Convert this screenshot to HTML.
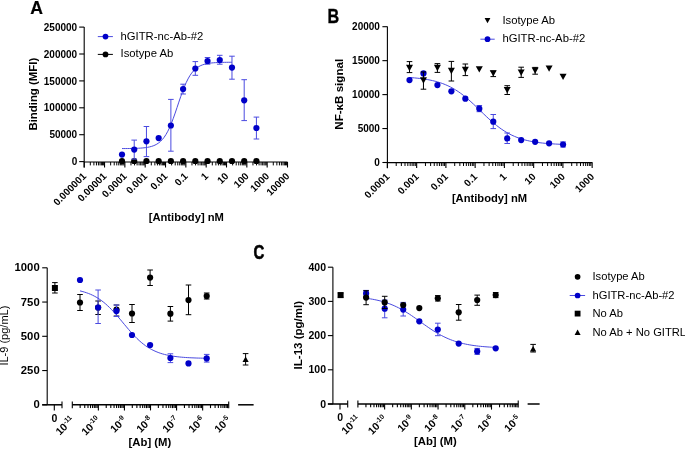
<!DOCTYPE html>
<html><head><meta charset="utf-8"><style>
html,body{margin:0;padding:0;background:#fff;overflow:hidden;width:685px;height:449px;}
svg{display:block;font-family:"Liberation Sans",sans-serif;will-change:transform;}
</style></head><body>
<svg width="685" height="449" viewBox="0 0 685 449">
<rect width="685" height="449" fill="#fff"/>
<text x="0" y="0" font-size="19.2" font-weight="bold" stroke="#000" stroke-width="0.2" transform="translate(30.3 14.0) scale(0.92 1)">A</text>
<line x1="84.2" y1="27.1" x2="84.2" y2="167.5" stroke="#000" stroke-width="1.1"/>
<line x1="79.2" y1="161.6" x2="84.2" y2="161.6" stroke="#000" stroke-width="1.1"/>
<text x="77.2" y="165.2" font-size="10" font-weight="bold" text-anchor="end" fill="#000" >0</text>
<line x1="79.2" y1="134.7" x2="84.2" y2="134.7" stroke="#000" stroke-width="1.1"/>
<text x="77.2" y="138.3" font-size="10" font-weight="bold" text-anchor="end" fill="#000" >50000</text>
<line x1="79.2" y1="107.8" x2="84.2" y2="107.8" stroke="#000" stroke-width="1.1"/>
<text x="77.2" y="111.4" font-size="10" font-weight="bold" text-anchor="end" fill="#000" >100000</text>
<line x1="79.2" y1="80.9" x2="84.2" y2="80.9" stroke="#000" stroke-width="1.1"/>
<text x="77.2" y="84.5" font-size="10" font-weight="bold" text-anchor="end" fill="#000" >150000</text>
<line x1="79.2" y1="54" x2="84.2" y2="54" stroke="#000" stroke-width="1.1"/>
<text x="77.2" y="57.6" font-size="10" font-weight="bold" text-anchor="end" fill="#000" >200000</text>
<line x1="79.2" y1="27.1" x2="84.2" y2="27.1" stroke="#000" stroke-width="1.1"/>
<text x="77.2" y="30.7" font-size="10" font-weight="bold" text-anchor="end" fill="#000" >250000</text>
<line x1="84.2" y1="162" x2="287.5" y2="162" stroke="#000" stroke-width="1.1"/>
<line x1="84.2" y1="162" x2="84.2" y2="167.5" stroke="#000" stroke-width="1.1"/>
<line x1="90.32" y1="162" x2="90.32" y2="165.4" stroke="#000" stroke-width="1.0"/>
<line x1="93.9" y1="162" x2="93.9" y2="165.4" stroke="#000" stroke-width="1.0"/>
<line x1="96.44" y1="162" x2="96.44" y2="165.4" stroke="#000" stroke-width="1.0"/>
<line x1="98.41" y1="162" x2="98.41" y2="165.4" stroke="#000" stroke-width="1.0"/>
<line x1="100.02" y1="162" x2="100.02" y2="165.4" stroke="#000" stroke-width="1.0"/>
<line x1="101.38" y1="162" x2="101.38" y2="165.4" stroke="#000" stroke-width="1.0"/>
<line x1="102.56" y1="162" x2="102.56" y2="165.4" stroke="#000" stroke-width="1.0"/>
<line x1="103.6" y1="162" x2="103.6" y2="165.4" stroke="#000" stroke-width="1.0"/>
<line x1="104.53" y1="162" x2="104.53" y2="167.5" stroke="#000" stroke-width="1.1"/>
<line x1="110.65" y1="162" x2="110.65" y2="165.4" stroke="#000" stroke-width="1.0"/>
<line x1="114.23" y1="162" x2="114.23" y2="165.4" stroke="#000" stroke-width="1.0"/>
<line x1="116.77" y1="162" x2="116.77" y2="165.4" stroke="#000" stroke-width="1.0"/>
<line x1="118.74" y1="162" x2="118.74" y2="165.4" stroke="#000" stroke-width="1.0"/>
<line x1="120.35" y1="162" x2="120.35" y2="165.4" stroke="#000" stroke-width="1.0"/>
<line x1="121.71" y1="162" x2="121.71" y2="165.4" stroke="#000" stroke-width="1.0"/>
<line x1="122.89" y1="162" x2="122.89" y2="165.4" stroke="#000" stroke-width="1.0"/>
<line x1="123.93" y1="162" x2="123.93" y2="165.4" stroke="#000" stroke-width="1.0"/>
<line x1="124.86" y1="162" x2="124.86" y2="167.5" stroke="#000" stroke-width="1.1"/>
<line x1="130.98" y1="162" x2="130.98" y2="165.4" stroke="#000" stroke-width="1.0"/>
<line x1="134.56" y1="162" x2="134.56" y2="165.4" stroke="#000" stroke-width="1.0"/>
<line x1="137.1" y1="162" x2="137.1" y2="165.4" stroke="#000" stroke-width="1.0"/>
<line x1="139.07" y1="162" x2="139.07" y2="165.4" stroke="#000" stroke-width="1.0"/>
<line x1="140.68" y1="162" x2="140.68" y2="165.4" stroke="#000" stroke-width="1.0"/>
<line x1="142.04" y1="162" x2="142.04" y2="165.4" stroke="#000" stroke-width="1.0"/>
<line x1="143.22" y1="162" x2="143.22" y2="165.4" stroke="#000" stroke-width="1.0"/>
<line x1="144.26" y1="162" x2="144.26" y2="165.4" stroke="#000" stroke-width="1.0"/>
<line x1="145.19" y1="162" x2="145.19" y2="167.5" stroke="#000" stroke-width="1.1"/>
<line x1="151.31" y1="162" x2="151.31" y2="165.4" stroke="#000" stroke-width="1.0"/>
<line x1="154.89" y1="162" x2="154.89" y2="165.4" stroke="#000" stroke-width="1.0"/>
<line x1="157.43" y1="162" x2="157.43" y2="165.4" stroke="#000" stroke-width="1.0"/>
<line x1="159.4" y1="162" x2="159.4" y2="165.4" stroke="#000" stroke-width="1.0"/>
<line x1="161.01" y1="162" x2="161.01" y2="165.4" stroke="#000" stroke-width="1.0"/>
<line x1="162.37" y1="162" x2="162.37" y2="165.4" stroke="#000" stroke-width="1.0"/>
<line x1="163.55" y1="162" x2="163.55" y2="165.4" stroke="#000" stroke-width="1.0"/>
<line x1="164.59" y1="162" x2="164.59" y2="165.4" stroke="#000" stroke-width="1.0"/>
<line x1="165.52" y1="162" x2="165.52" y2="167.5" stroke="#000" stroke-width="1.1"/>
<line x1="171.64" y1="162" x2="171.64" y2="165.4" stroke="#000" stroke-width="1.0"/>
<line x1="175.22" y1="162" x2="175.22" y2="165.4" stroke="#000" stroke-width="1.0"/>
<line x1="177.76" y1="162" x2="177.76" y2="165.4" stroke="#000" stroke-width="1.0"/>
<line x1="179.73" y1="162" x2="179.73" y2="165.4" stroke="#000" stroke-width="1.0"/>
<line x1="181.34" y1="162" x2="181.34" y2="165.4" stroke="#000" stroke-width="1.0"/>
<line x1="182.7" y1="162" x2="182.7" y2="165.4" stroke="#000" stroke-width="1.0"/>
<line x1="183.88" y1="162" x2="183.88" y2="165.4" stroke="#000" stroke-width="1.0"/>
<line x1="184.92" y1="162" x2="184.92" y2="165.4" stroke="#000" stroke-width="1.0"/>
<line x1="185.85" y1="162" x2="185.85" y2="167.5" stroke="#000" stroke-width="1.1"/>
<line x1="191.97" y1="162" x2="191.97" y2="165.4" stroke="#000" stroke-width="1.0"/>
<line x1="195.55" y1="162" x2="195.55" y2="165.4" stroke="#000" stroke-width="1.0"/>
<line x1="198.09" y1="162" x2="198.09" y2="165.4" stroke="#000" stroke-width="1.0"/>
<line x1="200.06" y1="162" x2="200.06" y2="165.4" stroke="#000" stroke-width="1.0"/>
<line x1="201.67" y1="162" x2="201.67" y2="165.4" stroke="#000" stroke-width="1.0"/>
<line x1="203.03" y1="162" x2="203.03" y2="165.4" stroke="#000" stroke-width="1.0"/>
<line x1="204.21" y1="162" x2="204.21" y2="165.4" stroke="#000" stroke-width="1.0"/>
<line x1="205.25" y1="162" x2="205.25" y2="165.4" stroke="#000" stroke-width="1.0"/>
<line x1="206.18" y1="162" x2="206.18" y2="167.5" stroke="#000" stroke-width="1.1"/>
<line x1="212.3" y1="162" x2="212.3" y2="165.4" stroke="#000" stroke-width="1.0"/>
<line x1="215.88" y1="162" x2="215.88" y2="165.4" stroke="#000" stroke-width="1.0"/>
<line x1="218.42" y1="162" x2="218.42" y2="165.4" stroke="#000" stroke-width="1.0"/>
<line x1="220.39" y1="162" x2="220.39" y2="165.4" stroke="#000" stroke-width="1.0"/>
<line x1="222" y1="162" x2="222" y2="165.4" stroke="#000" stroke-width="1.0"/>
<line x1="223.36" y1="162" x2="223.36" y2="165.4" stroke="#000" stroke-width="1.0"/>
<line x1="224.54" y1="162" x2="224.54" y2="165.4" stroke="#000" stroke-width="1.0"/>
<line x1="225.58" y1="162" x2="225.58" y2="165.4" stroke="#000" stroke-width="1.0"/>
<line x1="226.51" y1="162" x2="226.51" y2="167.5" stroke="#000" stroke-width="1.1"/>
<line x1="232.63" y1="162" x2="232.63" y2="165.4" stroke="#000" stroke-width="1.0"/>
<line x1="236.21" y1="162" x2="236.21" y2="165.4" stroke="#000" stroke-width="1.0"/>
<line x1="238.75" y1="162" x2="238.75" y2="165.4" stroke="#000" stroke-width="1.0"/>
<line x1="240.72" y1="162" x2="240.72" y2="165.4" stroke="#000" stroke-width="1.0"/>
<line x1="242.33" y1="162" x2="242.33" y2="165.4" stroke="#000" stroke-width="1.0"/>
<line x1="243.69" y1="162" x2="243.69" y2="165.4" stroke="#000" stroke-width="1.0"/>
<line x1="244.87" y1="162" x2="244.87" y2="165.4" stroke="#000" stroke-width="1.0"/>
<line x1="245.91" y1="162" x2="245.91" y2="165.4" stroke="#000" stroke-width="1.0"/>
<line x1="246.84" y1="162" x2="246.84" y2="167.5" stroke="#000" stroke-width="1.1"/>
<line x1="252.96" y1="162" x2="252.96" y2="165.4" stroke="#000" stroke-width="1.0"/>
<line x1="256.54" y1="162" x2="256.54" y2="165.4" stroke="#000" stroke-width="1.0"/>
<line x1="259.08" y1="162" x2="259.08" y2="165.4" stroke="#000" stroke-width="1.0"/>
<line x1="261.05" y1="162" x2="261.05" y2="165.4" stroke="#000" stroke-width="1.0"/>
<line x1="262.66" y1="162" x2="262.66" y2="165.4" stroke="#000" stroke-width="1.0"/>
<line x1="264.02" y1="162" x2="264.02" y2="165.4" stroke="#000" stroke-width="1.0"/>
<line x1="265.2" y1="162" x2="265.2" y2="165.4" stroke="#000" stroke-width="1.0"/>
<line x1="266.24" y1="162" x2="266.24" y2="165.4" stroke="#000" stroke-width="1.0"/>
<line x1="267.17" y1="162" x2="267.17" y2="167.5" stroke="#000" stroke-width="1.1"/>
<line x1="273.29" y1="162" x2="273.29" y2="165.4" stroke="#000" stroke-width="1.0"/>
<line x1="276.87" y1="162" x2="276.87" y2="165.4" stroke="#000" stroke-width="1.0"/>
<line x1="279.41" y1="162" x2="279.41" y2="165.4" stroke="#000" stroke-width="1.0"/>
<line x1="281.38" y1="162" x2="281.38" y2="165.4" stroke="#000" stroke-width="1.0"/>
<line x1="282.99" y1="162" x2="282.99" y2="165.4" stroke="#000" stroke-width="1.0"/>
<line x1="284.35" y1="162" x2="284.35" y2="165.4" stroke="#000" stroke-width="1.0"/>
<line x1="285.53" y1="162" x2="285.53" y2="165.4" stroke="#000" stroke-width="1.0"/>
<line x1="286.57" y1="162" x2="286.57" y2="165.4" stroke="#000" stroke-width="1.0"/>
<line x1="287.5" y1="162" x2="287.5" y2="167.5" stroke="#000" stroke-width="1.1"/>
<text x="0" y="0" font-size="10" font-weight="bold" text-anchor="end" transform="translate(86.9 176.7) rotate(-45)">0.000001</text>
<text x="0" y="0" font-size="10" font-weight="bold" text-anchor="end" transform="translate(107.23 176.7) rotate(-45)">0.00001</text>
<text x="0" y="0" font-size="10" font-weight="bold" text-anchor="end" transform="translate(127.56 176.7) rotate(-45)">0.0001</text>
<text x="0" y="0" font-size="10" font-weight="bold" text-anchor="end" transform="translate(147.89 176.7) rotate(-45)">0.001</text>
<text x="0" y="0" font-size="10" font-weight="bold" text-anchor="end" transform="translate(168.22 176.7) rotate(-45)">0.01</text>
<text x="0" y="0" font-size="10" font-weight="bold" text-anchor="end" transform="translate(188.55 176.7) rotate(-45)">0.1</text>
<text x="0" y="0" font-size="10" font-weight="bold" text-anchor="end" transform="translate(208.88 176.7) rotate(-45)">1</text>
<text x="0" y="0" font-size="10" font-weight="bold" text-anchor="end" transform="translate(229.21 176.7) rotate(-45)">10</text>
<text x="0" y="0" font-size="10" font-weight="bold" text-anchor="end" transform="translate(249.54 176.7) rotate(-45)">100</text>
<text x="0" y="0" font-size="10" font-weight="bold" text-anchor="end" transform="translate(269.87 176.7) rotate(-45)">1000</text>
<text x="0" y="0" font-size="10" font-weight="bold" text-anchor="end" transform="translate(290.2 176.7) rotate(-45)">10000</text>
<text x="148.7" y="221.2" font-size="11.2" font-weight="bold" text-anchor="start" fill="#000" >[Antibody] nM</text>
<text x="0" y="0" font-size="11.4" font-weight="bold" text-anchor="middle" transform="translate(36.6 94.2) rotate(-90)">Binding (MFI)</text>
<line x1="97.8" y1="36.6" x2="112.9" y2="36.6" stroke="#4a4ae0" stroke-width="1.0"/>
<circle cx="105.5" cy="36.6" r="2.85" fill="#0000c8"/>
<text x="120.5" y="39.7" font-size="11.3" font-weight="normal" text-anchor="start" fill="#000" >hGITR-nc-Ab-#2</text>
<line x1="97.8" y1="54.4" x2="112.9" y2="54.4" stroke="#000" stroke-width="1.0"/>
<circle cx="105.5" cy="54.4" r="2.85" fill="#000"/>
<text x="120.5" y="57.4" font-size="11.3" font-weight="normal" text-anchor="start" fill="#000" >Isotype Ab</text>
<clipPath id="ca"><rect x="0" y="0" width="685" height="164"/></clipPath><g clip-path="url(#ca)">
<circle cx="122" cy="161.2" r="3.1" fill="#000"/>
<circle cx="134.22" cy="161.2" r="3.1" fill="#000"/>
<circle cx="146.44" cy="161.2" r="3.1" fill="#000"/>
<circle cx="158.66" cy="161.2" r="3.1" fill="#000"/>
<circle cx="170.88" cy="161.2" r="3.1" fill="#000"/>
<circle cx="183.1" cy="161.2" r="3.1" fill="#000"/>
<circle cx="195.32" cy="161.2" r="3.1" fill="#000"/>
<circle cx="207.54" cy="161.2" r="3.1" fill="#000"/>
<circle cx="219.76" cy="161.2" r="3.1" fill="#000"/>
<circle cx="231.98" cy="161.2" r="3.1" fill="#000"/>
<circle cx="244.2" cy="161.2" r="3.1" fill="#000"/>
<circle cx="256.42" cy="161.2" r="3.1" fill="#000"/>
</g>
<path d="M122 148.56 L123.83 148.55 L125.67 148.54 L127.5 148.52 L129.33 148.5 L131.16 148.47 L133 148.43 L134.83 148.38 L136.66 148.32 L138.5 148.23 L140.33 148.13 L142.16 147.99 L144 147.82 L145.83 147.59 L147.66 147.3 L149.5 146.93 L151.33 146.46 L153.16 145.86 L154.99 145.1 L156.83 144.13 L158.66 142.92 L160.49 141.41 L162.33 139.54 L164.16 137.25 L165.99 134.49 L167.83 131.22 L169.66 127.41 L171.49 123.07 L173.32 118.26 L175.16 113.08 L176.99 107.65 L178.82 102.15 L180.66 96.76 L182.49 91.63 L184.32 86.9 L186.16 82.66 L187.99 78.95 L189.82 75.77 L191.65 73.1 L193.49 70.9 L195.32 69.09 L197.15 67.64 L198.99 66.48 L200.82 65.55 L202.65 64.82 L204.49 64.24 L206.32 63.79 L208.15 63.44 L209.98 63.16 L211.82 62.95 L213.65 62.78 L215.48 62.65 L217.32 62.55 L219.15 62.47 L220.98 62.41 L222.82 62.36 L224.65 62.33 L226.48 62.3 L228.31 62.28 L230.15 62.26 L231.98 62.25" fill="none" stroke="#4a4ae0" stroke-width="1.0"/>
<line x1="134.22" y1="140.1" x2="134.22" y2="159.1" stroke="#4a4ae0" stroke-width="1.0"/>
<line x1="131.42" y1="140.1" x2="137.02" y2="140.1" stroke="#4a4ae0" stroke-width="1.0"/>
<line x1="131.42" y1="159.1" x2="137.02" y2="159.1" stroke="#4a4ae0" stroke-width="1.0"/>
<line x1="146.44" y1="126.5" x2="146.44" y2="156.6" stroke="#4a4ae0" stroke-width="1.0"/>
<line x1="143.64" y1="126.5" x2="149.24" y2="126.5" stroke="#4a4ae0" stroke-width="1.0"/>
<line x1="143.64" y1="156.6" x2="149.24" y2="156.6" stroke="#4a4ae0" stroke-width="1.0"/>
<line x1="170.88" y1="99.4" x2="170.88" y2="151.2" stroke="#4a4ae0" stroke-width="1.0"/>
<line x1="168.08" y1="99.4" x2="173.68" y2="99.4" stroke="#4a4ae0" stroke-width="1.0"/>
<line x1="168.08" y1="151.2" x2="173.68" y2="151.2" stroke="#4a4ae0" stroke-width="1.0"/>
<line x1="183.1" y1="84.2" x2="183.1" y2="94" stroke="#4a4ae0" stroke-width="1.0"/>
<line x1="180.3" y1="84.2" x2="185.9" y2="84.2" stroke="#4a4ae0" stroke-width="1.0"/>
<line x1="180.3" y1="94" x2="185.9" y2="94" stroke="#4a4ae0" stroke-width="1.0"/>
<line x1="195.32" y1="61.6" x2="195.32" y2="75.3" stroke="#4a4ae0" stroke-width="1.0"/>
<line x1="192.52" y1="61.6" x2="198.12" y2="61.6" stroke="#4a4ae0" stroke-width="1.0"/>
<line x1="192.52" y1="75.3" x2="198.12" y2="75.3" stroke="#4a4ae0" stroke-width="1.0"/>
<line x1="207.54" y1="57.5" x2="207.54" y2="64.2" stroke="#4a4ae0" stroke-width="1.0"/>
<line x1="204.74" y1="57.5" x2="210.34" y2="57.5" stroke="#4a4ae0" stroke-width="1.0"/>
<line x1="204.74" y1="64.2" x2="210.34" y2="64.2" stroke="#4a4ae0" stroke-width="1.0"/>
<line x1="219.76" y1="55.3" x2="219.76" y2="64.2" stroke="#4a4ae0" stroke-width="1.0"/>
<line x1="216.96" y1="55.3" x2="222.56" y2="55.3" stroke="#4a4ae0" stroke-width="1.0"/>
<line x1="216.96" y1="64.2" x2="222.56" y2="64.2" stroke="#4a4ae0" stroke-width="1.0"/>
<line x1="231.98" y1="56.2" x2="231.98" y2="79.2" stroke="#4a4ae0" stroke-width="1.0"/>
<line x1="229.18" y1="56.2" x2="234.78" y2="56.2" stroke="#4a4ae0" stroke-width="1.0"/>
<line x1="229.18" y1="79.2" x2="234.78" y2="79.2" stroke="#4a4ae0" stroke-width="1.0"/>
<line x1="244.2" y1="79.7" x2="244.2" y2="120.6" stroke="#4a4ae0" stroke-width="1.0"/>
<line x1="241.4" y1="79.7" x2="247" y2="79.7" stroke="#4a4ae0" stroke-width="1.0"/>
<line x1="241.4" y1="120.6" x2="247" y2="120.6" stroke="#4a4ae0" stroke-width="1.0"/>
<line x1="256.42" y1="117.1" x2="256.42" y2="139" stroke="#4a4ae0" stroke-width="1.0"/>
<line x1="253.62" y1="117.1" x2="259.22" y2="117.1" stroke="#4a4ae0" stroke-width="1.0"/>
<line x1="253.62" y1="139" x2="259.22" y2="139" stroke="#4a4ae0" stroke-width="1.0"/>
<circle cx="122" cy="154.6" r="3.1" fill="#0000c8"/>
<circle cx="134.22" cy="149.6" r="3.1" fill="#0000c8"/>
<circle cx="146.44" cy="141.3" r="3.1" fill="#0000c8"/>
<circle cx="158.66" cy="138.1" r="3.1" fill="#0000c8"/>
<circle cx="170.88" cy="125.5" r="3.1" fill="#0000c8"/>
<circle cx="183.1" cy="89" r="3.1" fill="#0000c8"/>
<circle cx="195.32" cy="68.5" r="3.1" fill="#0000c8"/>
<circle cx="207.54" cy="61" r="3.1" fill="#0000c8"/>
<circle cx="219.76" cy="60.1" r="3.1" fill="#0000c8"/>
<circle cx="231.98" cy="67.6" r="3.1" fill="#0000c8"/>
<circle cx="244.2" cy="100.3" r="3.1" fill="#0000c8"/>
<circle cx="256.42" cy="128" r="3.1" fill="#0000c8"/>
<text x="0" y="0" font-size="20" font-weight="bold" stroke="#000" stroke-width="0.35" transform="translate(327.4 22.7) scale(0.81 1)">B</text>
<line x1="387.4" y1="26.6" x2="387.4" y2="168.3" stroke="#000" stroke-width="1.1"/>
<line x1="382.4" y1="162.5" x2="387.4" y2="162.5" stroke="#000" stroke-width="1.1"/>
<text x="379.9" y="166.1" font-size="10" font-weight="bold" text-anchor="end" fill="#000" >0</text>
<line x1="382.4" y1="128.55" x2="387.4" y2="128.55" stroke="#000" stroke-width="1.1"/>
<text x="379.9" y="132.15" font-size="10" font-weight="bold" text-anchor="end" fill="#000" >5000</text>
<line x1="382.4" y1="94.6" x2="387.4" y2="94.6" stroke="#000" stroke-width="1.1"/>
<text x="379.9" y="98.2" font-size="10" font-weight="bold" text-anchor="end" fill="#000" >10000</text>
<line x1="382.4" y1="60.65" x2="387.4" y2="60.65" stroke="#000" stroke-width="1.1"/>
<text x="379.9" y="64.25" font-size="10" font-weight="bold" text-anchor="end" fill="#000" >15000</text>
<line x1="382.4" y1="26.7" x2="387.4" y2="26.7" stroke="#000" stroke-width="1.1"/>
<text x="379.9" y="30.3" font-size="10" font-weight="bold" text-anchor="end" fill="#000" >20000</text>
<line x1="387.4" y1="162.6" x2="592.4" y2="162.6" stroke="#000" stroke-width="1.1"/>
<line x1="387.4" y1="162.6" x2="387.4" y2="168.1" stroke="#000" stroke-width="1.1"/>
<line x1="396.21" y1="162.6" x2="396.21" y2="166" stroke="#000" stroke-width="1.0"/>
<line x1="401.36" y1="162.6" x2="401.36" y2="166" stroke="#000" stroke-width="1.0"/>
<line x1="405.01" y1="162.6" x2="405.01" y2="166" stroke="#000" stroke-width="1.0"/>
<line x1="407.84" y1="162.6" x2="407.84" y2="166" stroke="#000" stroke-width="1.0"/>
<line x1="410.16" y1="162.6" x2="410.16" y2="166" stroke="#000" stroke-width="1.0"/>
<line x1="412.12" y1="162.6" x2="412.12" y2="166" stroke="#000" stroke-width="1.0"/>
<line x1="413.82" y1="162.6" x2="413.82" y2="166" stroke="#000" stroke-width="1.0"/>
<line x1="415.31" y1="162.6" x2="415.31" y2="166" stroke="#000" stroke-width="1.0"/>
<line x1="416.65" y1="162.6" x2="416.65" y2="168.1" stroke="#000" stroke-width="1.1"/>
<line x1="425.46" y1="162.6" x2="425.46" y2="166" stroke="#000" stroke-width="1.0"/>
<line x1="430.61" y1="162.6" x2="430.61" y2="166" stroke="#000" stroke-width="1.0"/>
<line x1="434.26" y1="162.6" x2="434.26" y2="166" stroke="#000" stroke-width="1.0"/>
<line x1="437.09" y1="162.6" x2="437.09" y2="166" stroke="#000" stroke-width="1.0"/>
<line x1="439.41" y1="162.6" x2="439.41" y2="166" stroke="#000" stroke-width="1.0"/>
<line x1="441.37" y1="162.6" x2="441.37" y2="166" stroke="#000" stroke-width="1.0"/>
<line x1="443.07" y1="162.6" x2="443.07" y2="166" stroke="#000" stroke-width="1.0"/>
<line x1="444.56" y1="162.6" x2="444.56" y2="166" stroke="#000" stroke-width="1.0"/>
<line x1="445.9" y1="162.6" x2="445.9" y2="168.1" stroke="#000" stroke-width="1.1"/>
<line x1="454.71" y1="162.6" x2="454.71" y2="166" stroke="#000" stroke-width="1.0"/>
<line x1="459.86" y1="162.6" x2="459.86" y2="166" stroke="#000" stroke-width="1.0"/>
<line x1="463.51" y1="162.6" x2="463.51" y2="166" stroke="#000" stroke-width="1.0"/>
<line x1="466.34" y1="162.6" x2="466.34" y2="166" stroke="#000" stroke-width="1.0"/>
<line x1="468.66" y1="162.6" x2="468.66" y2="166" stroke="#000" stroke-width="1.0"/>
<line x1="470.62" y1="162.6" x2="470.62" y2="166" stroke="#000" stroke-width="1.0"/>
<line x1="472.32" y1="162.6" x2="472.32" y2="166" stroke="#000" stroke-width="1.0"/>
<line x1="473.81" y1="162.6" x2="473.81" y2="166" stroke="#000" stroke-width="1.0"/>
<line x1="475.15" y1="162.6" x2="475.15" y2="168.1" stroke="#000" stroke-width="1.1"/>
<line x1="483.96" y1="162.6" x2="483.96" y2="166" stroke="#000" stroke-width="1.0"/>
<line x1="489.11" y1="162.6" x2="489.11" y2="166" stroke="#000" stroke-width="1.0"/>
<line x1="492.76" y1="162.6" x2="492.76" y2="166" stroke="#000" stroke-width="1.0"/>
<line x1="495.59" y1="162.6" x2="495.59" y2="166" stroke="#000" stroke-width="1.0"/>
<line x1="497.91" y1="162.6" x2="497.91" y2="166" stroke="#000" stroke-width="1.0"/>
<line x1="499.87" y1="162.6" x2="499.87" y2="166" stroke="#000" stroke-width="1.0"/>
<line x1="501.57" y1="162.6" x2="501.57" y2="166" stroke="#000" stroke-width="1.0"/>
<line x1="503.06" y1="162.6" x2="503.06" y2="166" stroke="#000" stroke-width="1.0"/>
<line x1="504.4" y1="162.6" x2="504.4" y2="168.1" stroke="#000" stroke-width="1.1"/>
<line x1="513.21" y1="162.6" x2="513.21" y2="166" stroke="#000" stroke-width="1.0"/>
<line x1="518.36" y1="162.6" x2="518.36" y2="166" stroke="#000" stroke-width="1.0"/>
<line x1="522.01" y1="162.6" x2="522.01" y2="166" stroke="#000" stroke-width="1.0"/>
<line x1="524.84" y1="162.6" x2="524.84" y2="166" stroke="#000" stroke-width="1.0"/>
<line x1="527.16" y1="162.6" x2="527.16" y2="166" stroke="#000" stroke-width="1.0"/>
<line x1="529.12" y1="162.6" x2="529.12" y2="166" stroke="#000" stroke-width="1.0"/>
<line x1="530.82" y1="162.6" x2="530.82" y2="166" stroke="#000" stroke-width="1.0"/>
<line x1="532.31" y1="162.6" x2="532.31" y2="166" stroke="#000" stroke-width="1.0"/>
<line x1="533.65" y1="162.6" x2="533.65" y2="168.1" stroke="#000" stroke-width="1.1"/>
<line x1="542.46" y1="162.6" x2="542.46" y2="166" stroke="#000" stroke-width="1.0"/>
<line x1="547.61" y1="162.6" x2="547.61" y2="166" stroke="#000" stroke-width="1.0"/>
<line x1="551.26" y1="162.6" x2="551.26" y2="166" stroke="#000" stroke-width="1.0"/>
<line x1="554.09" y1="162.6" x2="554.09" y2="166" stroke="#000" stroke-width="1.0"/>
<line x1="556.41" y1="162.6" x2="556.41" y2="166" stroke="#000" stroke-width="1.0"/>
<line x1="558.37" y1="162.6" x2="558.37" y2="166" stroke="#000" stroke-width="1.0"/>
<line x1="560.07" y1="162.6" x2="560.07" y2="166" stroke="#000" stroke-width="1.0"/>
<line x1="561.56" y1="162.6" x2="561.56" y2="166" stroke="#000" stroke-width="1.0"/>
<line x1="562.9" y1="162.6" x2="562.9" y2="168.1" stroke="#000" stroke-width="1.1"/>
<line x1="571.71" y1="162.6" x2="571.71" y2="166" stroke="#000" stroke-width="1.0"/>
<line x1="576.86" y1="162.6" x2="576.86" y2="166" stroke="#000" stroke-width="1.0"/>
<line x1="580.51" y1="162.6" x2="580.51" y2="166" stroke="#000" stroke-width="1.0"/>
<line x1="583.34" y1="162.6" x2="583.34" y2="166" stroke="#000" stroke-width="1.0"/>
<line x1="585.66" y1="162.6" x2="585.66" y2="166" stroke="#000" stroke-width="1.0"/>
<line x1="587.62" y1="162.6" x2="587.62" y2="166" stroke="#000" stroke-width="1.0"/>
<line x1="589.32" y1="162.6" x2="589.32" y2="166" stroke="#000" stroke-width="1.0"/>
<line x1="590.81" y1="162.6" x2="590.81" y2="166" stroke="#000" stroke-width="1.0"/>
<line x1="592.15" y1="162.6" x2="592.15" y2="168.1" stroke="#000" stroke-width="1.1"/>
<text x="0" y="0" font-size="10" font-weight="bold" text-anchor="end" transform="translate(390.1 177.3) rotate(-45)">0.0001</text>
<text x="0" y="0" font-size="10" font-weight="bold" text-anchor="end" transform="translate(419.35 177.3) rotate(-45)">0.001</text>
<text x="0" y="0" font-size="10" font-weight="bold" text-anchor="end" transform="translate(448.6 177.3) rotate(-45)">0.01</text>
<text x="0" y="0" font-size="10" font-weight="bold" text-anchor="end" transform="translate(477.85 177.3) rotate(-45)">0.1</text>
<text x="0" y="0" font-size="10" font-weight="bold" text-anchor="end" transform="translate(507.1 177.3) rotate(-45)">1</text>
<text x="0" y="0" font-size="10" font-weight="bold" text-anchor="end" transform="translate(536.35 177.3) rotate(-45)">10</text>
<text x="0" y="0" font-size="10" font-weight="bold" text-anchor="end" transform="translate(565.6 177.3) rotate(-45)">100</text>
<text x="0" y="0" font-size="10" font-weight="bold" text-anchor="end" transform="translate(594.85 177.3) rotate(-45)">1000</text>
<text x="451.9" y="201.5" font-size="11.2" font-weight="bold" text-anchor="start" fill="#000" >[Antibody] nM</text>
<text x="0" y="0" font-size="11.6" font-weight="bold" text-anchor="middle" transform="translate(343.4 94.3) rotate(-90)">NF-κB signal</text>
<path d="M484.6 17.99L490.4 17.99L487.5 23.21Z" fill="#000"/>
<text x="502.4" y="23.8" font-size="11.3" font-weight="normal" text-anchor="start" fill="#000" >Isotype Ab</text>
<line x1="480.4" y1="39.2" x2="494.7" y2="39.2" stroke="#4a4ae0" stroke-width="1.0"/>
<circle cx="487.5" cy="39.2" r="2.85" fill="#0000c8"/>
<text x="502.4" y="42" font-size="11.3" font-weight="normal" text-anchor="start" fill="#000" >hGITR-nc-Ab-#2</text>
<path d="M409.5 77.52 L412.06 77.71 L414.62 77.92 L417.18 78.17 L419.74 78.45 L422.3 78.77 L424.86 79.14 L427.42 79.57 L429.97 80.05 L432.53 80.6 L435.09 81.22 L437.65 81.93 L440.21 82.72 L442.77 83.62 L445.33 84.63 L447.89 85.75 L450.45 86.99 L453.01 88.37 L455.57 89.88 L458.13 91.53 L460.69 93.32 L463.25 95.24 L465.81 97.3 L468.36 99.47 L470.92 101.75 L473.48 104.11 L476.04 106.54 L478.6 109.02 L481.16 111.51 L483.72 113.99 L486.28 116.44 L488.84 118.82 L491.4 121.13 L493.96 123.34 L496.52 125.43 L499.08 127.4 L501.64 129.23 L504.2 130.92 L506.75 132.48 L509.31 133.89 L511.87 135.18 L514.43 136.34 L516.99 137.38 L519.55 138.31 L522.11 139.13 L524.67 139.87 L527.23 140.52 L529.79 141.09 L532.35 141.59 L534.91 142.03 L537.47 142.42 L540.03 142.75 L542.59 143.05 L545.14 143.31 L547.7 143.53 L550.26 143.72 L552.82 143.89 L555.38 144.04 L557.94 144.17 L560.5 144.28 L563.06 144.38" fill="none" stroke="#4a4ae0" stroke-width="1.0"/>
<line x1="479.3" y1="105.5" x2="479.3" y2="111.7" stroke="#4a4ae0" stroke-width="1.0"/>
<line x1="476.5" y1="105.5" x2="482.1" y2="105.5" stroke="#4a4ae0" stroke-width="1.0"/>
<line x1="476.5" y1="111.7" x2="482.1" y2="111.7" stroke="#4a4ae0" stroke-width="1.0"/>
<line x1="493.26" y1="114.5" x2="493.26" y2="128.6" stroke="#4a4ae0" stroke-width="1.0"/>
<line x1="490.46" y1="114.5" x2="496.06" y2="114.5" stroke="#4a4ae0" stroke-width="1.0"/>
<line x1="490.46" y1="128.6" x2="496.06" y2="128.6" stroke="#4a4ae0" stroke-width="1.0"/>
<line x1="507.22" y1="133" x2="507.22" y2="143.5" stroke="#4a4ae0" stroke-width="1.0"/>
<line x1="504.42" y1="133" x2="510.02" y2="133" stroke="#4a4ae0" stroke-width="1.0"/>
<line x1="504.42" y1="143.5" x2="510.02" y2="143.5" stroke="#4a4ae0" stroke-width="1.0"/>
<line x1="563.06" y1="141.9" x2="563.06" y2="147" stroke="#4a4ae0" stroke-width="1.0"/>
<line x1="560.26" y1="141.9" x2="565.86" y2="141.9" stroke="#4a4ae0" stroke-width="1.0"/>
<line x1="560.26" y1="147" x2="565.86" y2="147" stroke="#4a4ae0" stroke-width="1.0"/>
<circle cx="409.5" cy="80.1" r="3.1" fill="#0000c8"/>
<circle cx="423.46" cy="73.4" r="3.1" fill="#0000c8"/>
<circle cx="437.42" cy="85.1" r="3.1" fill="#0000c8"/>
<circle cx="451.38" cy="91.3" r="3.1" fill="#0000c8"/>
<circle cx="465.34" cy="98.7" r="3.1" fill="#0000c8"/>
<circle cx="479.3" cy="108.7" r="3.1" fill="#0000c8"/>
<circle cx="493.26" cy="121.7" r="3.1" fill="#0000c8"/>
<circle cx="507.22" cy="138.4" r="3.1" fill="#0000c8"/>
<circle cx="521.18" cy="140.1" r="3.1" fill="#0000c8"/>
<circle cx="535.14" cy="141.8" r="3.1" fill="#0000c8"/>
<circle cx="549.1" cy="143.3" r="3.1" fill="#0000c8"/>
<circle cx="563.06" cy="144.5" r="3.1" fill="#0000c8"/>
<line x1="409.5" y1="61.6" x2="409.5" y2="72.6" stroke="#000" stroke-width="1.0"/>
<line x1="406.7" y1="61.6" x2="412.3" y2="61.6" stroke="#000" stroke-width="1.0"/>
<line x1="406.7" y1="72.6" x2="412.3" y2="72.6" stroke="#000" stroke-width="1.0"/>
<line x1="423.46" y1="72" x2="423.46" y2="89.2" stroke="#000" stroke-width="1.0"/>
<line x1="420.66" y1="72" x2="426.26" y2="72" stroke="#000" stroke-width="1.0"/>
<line x1="420.66" y1="89.2" x2="426.26" y2="89.2" stroke="#000" stroke-width="1.0"/>
<line x1="437.42" y1="63.6" x2="437.42" y2="72.4" stroke="#000" stroke-width="1.0"/>
<line x1="434.62" y1="63.6" x2="440.22" y2="63.6" stroke="#000" stroke-width="1.0"/>
<line x1="434.62" y1="72.4" x2="440.22" y2="72.4" stroke="#000" stroke-width="1.0"/>
<line x1="451.38" y1="61.4" x2="451.38" y2="81" stroke="#000" stroke-width="1.0"/>
<line x1="448.58" y1="61.4" x2="454.18" y2="61.4" stroke="#000" stroke-width="1.0"/>
<line x1="448.58" y1="81" x2="454.18" y2="81" stroke="#000" stroke-width="1.0"/>
<line x1="465.34" y1="64" x2="465.34" y2="75.6" stroke="#000" stroke-width="1.0"/>
<line x1="462.54" y1="64" x2="468.14" y2="64" stroke="#000" stroke-width="1.0"/>
<line x1="462.54" y1="75.6" x2="468.14" y2="75.6" stroke="#000" stroke-width="1.0"/>
<line x1="493.26" y1="71" x2="493.26" y2="76.6" stroke="#000" stroke-width="1.0"/>
<line x1="490.46" y1="71" x2="496.06" y2="71" stroke="#000" stroke-width="1.0"/>
<line x1="490.46" y1="76.6" x2="496.06" y2="76.6" stroke="#000" stroke-width="1.0"/>
<line x1="507.22" y1="85.7" x2="507.22" y2="94.5" stroke="#000" stroke-width="1.0"/>
<line x1="504.42" y1="85.7" x2="510.02" y2="85.7" stroke="#000" stroke-width="1.0"/>
<line x1="504.42" y1="94.5" x2="510.02" y2="94.5" stroke="#000" stroke-width="1.0"/>
<line x1="521.18" y1="67.2" x2="521.18" y2="77.4" stroke="#000" stroke-width="1.0"/>
<line x1="518.38" y1="67.2" x2="523.98" y2="67.2" stroke="#000" stroke-width="1.0"/>
<line x1="518.38" y1="77.4" x2="523.98" y2="77.4" stroke="#000" stroke-width="1.0"/>
<line x1="535.14" y1="67.4" x2="535.14" y2="74.2" stroke="#000" stroke-width="1.0"/>
<line x1="532.34" y1="67.4" x2="537.94" y2="67.4" stroke="#000" stroke-width="1.0"/>
<line x1="532.34" y1="74.2" x2="537.94" y2="74.2" stroke="#000" stroke-width="1.0"/>
<path d="M406 64.85L413 64.85L409.5 71.15Z" fill="#000"/>
<path d="M419.96 77.35L426.96 77.35L423.46 83.65Z" fill="#000"/>
<path d="M433.92 64.85L440.92 64.85L437.42 71.15Z" fill="#000"/>
<path d="M447.88 67.85L454.88 67.85L451.38 74.15Z" fill="#000"/>
<path d="M461.84 66.85L468.84 66.85L465.34 73.15Z" fill="#000"/>
<path d="M475.8 66.25L482.8 66.25L479.3 72.55Z" fill="#000"/>
<path d="M489.76 70.25L496.76 70.25L493.26 76.55Z" fill="#000"/>
<path d="M503.72 86.95L510.72 86.95L507.22 93.25Z" fill="#000"/>
<path d="M517.68 69.45L524.68 69.45L521.18 75.75Z" fill="#000"/>
<path d="M531.64 67.45L538.64 67.45L535.14 73.75Z" fill="#000"/>
<path d="M545.6 65.45L552.6 65.45L549.1 71.75Z" fill="#000"/>
<path d="M559.56 73.65L566.56 73.65L563.06 79.95Z" fill="#000"/>
<line x1="47.2" y1="267.8" x2="47.2" y2="404.8" stroke="#000" stroke-width="1.1"/>
<line x1="42.2" y1="404.8" x2="47.2" y2="404.8" stroke="#000" stroke-width="1.1"/>
<text x="39.7" y="408.47" font-size="11.3" font-weight="bold" text-anchor="end" fill="#000" >0</text>
<line x1="42.2" y1="370.55" x2="47.2" y2="370.55" stroke="#000" stroke-width="1.1"/>
<text x="39.7" y="374.22" font-size="11.3" font-weight="bold" text-anchor="end" fill="#000" >250</text>
<line x1="42.2" y1="336.3" x2="47.2" y2="336.3" stroke="#000" stroke-width="1.1"/>
<text x="39.7" y="339.97" font-size="11.3" font-weight="bold" text-anchor="end" fill="#000" >500</text>
<line x1="42.2" y1="302.05" x2="47.2" y2="302.05" stroke="#000" stroke-width="1.1"/>
<text x="39.7" y="305.72" font-size="11.3" font-weight="bold" text-anchor="end" fill="#000" >750</text>
<line x1="42.2" y1="267.8" x2="47.2" y2="267.8" stroke="#000" stroke-width="1.1"/>
<text x="39.7" y="271.47" font-size="11.3" font-weight="bold" text-anchor="end" fill="#000" >1000</text>
<line x1="42.2" y1="404.8" x2="62" y2="404.8" stroke="#000" stroke-width="1.5"/>
<line x1="62" y1="401.4" x2="62" y2="408.2" stroke="#000" stroke-width="1.1"/>
<line x1="54.3" y1="404.8" x2="54.3" y2="410.4" stroke="#000" stroke-width="1.1"/>
<text x="54.4" y="422" font-size="10.5" font-weight="bold" text-anchor="middle" fill="#000" >0</text>
<line x1="72.3" y1="404.8" x2="228.72" y2="404.8" stroke="#000" stroke-width="1.5"/>
<line x1="72.3" y1="401.4" x2="72.3" y2="408.2" stroke="#000" stroke-width="1.1"/>
<line x1="228.72" y1="401.4" x2="228.72" y2="408.2" stroke="#000" stroke-width="1.1"/>
<line x1="80.15" y1="404.8" x2="80.15" y2="408.1" stroke="#000" stroke-width="1.1"/>
<line x1="84.74" y1="404.8" x2="84.74" y2="408.1" stroke="#000" stroke-width="1.1"/>
<line x1="88" y1="404.8" x2="88" y2="408.1" stroke="#000" stroke-width="1.1"/>
<line x1="90.52" y1="404.8" x2="90.52" y2="408.1" stroke="#000" stroke-width="1.1"/>
<line x1="92.59" y1="404.8" x2="92.59" y2="408.1" stroke="#000" stroke-width="1.1"/>
<line x1="94.33" y1="404.8" x2="94.33" y2="408.1" stroke="#000" stroke-width="1.1"/>
<line x1="95.84" y1="404.8" x2="95.84" y2="408.1" stroke="#000" stroke-width="1.1"/>
<line x1="97.18" y1="404.8" x2="97.18" y2="408.1" stroke="#000" stroke-width="1.1"/>
<text x="0" y="0" font-size="10.5" font-weight="bold" text-anchor="end" transform="translate(75.1 420.7) rotate(-45)">10<tspan font-size="7" dy="-4">-11</tspan></text>
<line x1="98.37" y1="404.8" x2="98.37" y2="410.4" stroke="#000" stroke-width="1.1"/>
<line x1="106.22" y1="404.8" x2="106.22" y2="408.1" stroke="#000" stroke-width="1.1"/>
<line x1="110.81" y1="404.8" x2="110.81" y2="408.1" stroke="#000" stroke-width="1.1"/>
<line x1="114.07" y1="404.8" x2="114.07" y2="408.1" stroke="#000" stroke-width="1.1"/>
<line x1="116.59" y1="404.8" x2="116.59" y2="408.1" stroke="#000" stroke-width="1.1"/>
<line x1="118.66" y1="404.8" x2="118.66" y2="408.1" stroke="#000" stroke-width="1.1"/>
<line x1="120.4" y1="404.8" x2="120.4" y2="408.1" stroke="#000" stroke-width="1.1"/>
<line x1="121.91" y1="404.8" x2="121.91" y2="408.1" stroke="#000" stroke-width="1.1"/>
<line x1="123.25" y1="404.8" x2="123.25" y2="408.1" stroke="#000" stroke-width="1.1"/>
<text x="0" y="0" font-size="10.5" font-weight="bold" text-anchor="end" transform="translate(101.17 420.7) rotate(-45)">10<tspan font-size="7" dy="-4">-10</tspan></text>
<line x1="124.44" y1="404.8" x2="124.44" y2="410.4" stroke="#000" stroke-width="1.1"/>
<line x1="132.29" y1="404.8" x2="132.29" y2="408.1" stroke="#000" stroke-width="1.1"/>
<line x1="136.88" y1="404.8" x2="136.88" y2="408.1" stroke="#000" stroke-width="1.1"/>
<line x1="140.14" y1="404.8" x2="140.14" y2="408.1" stroke="#000" stroke-width="1.1"/>
<line x1="142.66" y1="404.8" x2="142.66" y2="408.1" stroke="#000" stroke-width="1.1"/>
<line x1="144.73" y1="404.8" x2="144.73" y2="408.1" stroke="#000" stroke-width="1.1"/>
<line x1="146.47" y1="404.8" x2="146.47" y2="408.1" stroke="#000" stroke-width="1.1"/>
<line x1="147.98" y1="404.8" x2="147.98" y2="408.1" stroke="#000" stroke-width="1.1"/>
<line x1="149.32" y1="404.8" x2="149.32" y2="408.1" stroke="#000" stroke-width="1.1"/>
<text x="0" y="0" font-size="10.5" font-weight="bold" text-anchor="end" transform="translate(127.24 420.7) rotate(-45)">10<tspan font-size="7" dy="-4">-9</tspan></text>
<line x1="150.51" y1="404.8" x2="150.51" y2="410.4" stroke="#000" stroke-width="1.1"/>
<line x1="158.36" y1="404.8" x2="158.36" y2="408.1" stroke="#000" stroke-width="1.1"/>
<line x1="162.95" y1="404.8" x2="162.95" y2="408.1" stroke="#000" stroke-width="1.1"/>
<line x1="166.21" y1="404.8" x2="166.21" y2="408.1" stroke="#000" stroke-width="1.1"/>
<line x1="168.73" y1="404.8" x2="168.73" y2="408.1" stroke="#000" stroke-width="1.1"/>
<line x1="170.8" y1="404.8" x2="170.8" y2="408.1" stroke="#000" stroke-width="1.1"/>
<line x1="172.54" y1="404.8" x2="172.54" y2="408.1" stroke="#000" stroke-width="1.1"/>
<line x1="174.05" y1="404.8" x2="174.05" y2="408.1" stroke="#000" stroke-width="1.1"/>
<line x1="175.39" y1="404.8" x2="175.39" y2="408.1" stroke="#000" stroke-width="1.1"/>
<text x="0" y="0" font-size="10.5" font-weight="bold" text-anchor="end" transform="translate(153.31 420.7) rotate(-45)">10<tspan font-size="7" dy="-4">-8</tspan></text>
<line x1="176.58" y1="404.8" x2="176.58" y2="410.4" stroke="#000" stroke-width="1.1"/>
<line x1="184.43" y1="404.8" x2="184.43" y2="408.1" stroke="#000" stroke-width="1.1"/>
<line x1="189.02" y1="404.8" x2="189.02" y2="408.1" stroke="#000" stroke-width="1.1"/>
<line x1="192.28" y1="404.8" x2="192.28" y2="408.1" stroke="#000" stroke-width="1.1"/>
<line x1="194.8" y1="404.8" x2="194.8" y2="408.1" stroke="#000" stroke-width="1.1"/>
<line x1="196.87" y1="404.8" x2="196.87" y2="408.1" stroke="#000" stroke-width="1.1"/>
<line x1="198.61" y1="404.8" x2="198.61" y2="408.1" stroke="#000" stroke-width="1.1"/>
<line x1="200.12" y1="404.8" x2="200.12" y2="408.1" stroke="#000" stroke-width="1.1"/>
<line x1="201.46" y1="404.8" x2="201.46" y2="408.1" stroke="#000" stroke-width="1.1"/>
<text x="0" y="0" font-size="10.5" font-weight="bold" text-anchor="end" transform="translate(179.38 420.7) rotate(-45)">10<tspan font-size="7" dy="-4">-7</tspan></text>
<line x1="202.65" y1="404.8" x2="202.65" y2="410.4" stroke="#000" stroke-width="1.1"/>
<line x1="210.5" y1="404.8" x2="210.5" y2="408.1" stroke="#000" stroke-width="1.1"/>
<line x1="215.09" y1="404.8" x2="215.09" y2="408.1" stroke="#000" stroke-width="1.1"/>
<line x1="218.35" y1="404.8" x2="218.35" y2="408.1" stroke="#000" stroke-width="1.1"/>
<line x1="220.87" y1="404.8" x2="220.87" y2="408.1" stroke="#000" stroke-width="1.1"/>
<line x1="222.94" y1="404.8" x2="222.94" y2="408.1" stroke="#000" stroke-width="1.1"/>
<line x1="224.68" y1="404.8" x2="224.68" y2="408.1" stroke="#000" stroke-width="1.1"/>
<line x1="226.19" y1="404.8" x2="226.19" y2="408.1" stroke="#000" stroke-width="1.1"/>
<line x1="227.53" y1="404.8" x2="227.53" y2="408.1" stroke="#000" stroke-width="1.1"/>
<text x="0" y="0" font-size="10.5" font-weight="bold" text-anchor="end" transform="translate(205.45 420.7) rotate(-45)">10<tspan font-size="7" dy="-4">-6</tspan></text>
<text x="0" y="0" font-size="10.5" font-weight="bold" text-anchor="end" transform="translate(231.52 420.7) rotate(-45)">10<tspan font-size="7" dy="-4">-5</tspan></text>
<line x1="238.12" y1="404.8" x2="253.62" y2="404.8" stroke="#000" stroke-width="1.5"/>
<text x="0" y="0" font-size="11" font-weight="normal" text-anchor="middle" transform="translate(7.8 335.6) rotate(-90)">IL-9 (pg/mL)</text>
<text x="128.6" y="446.4" font-size="11.3" font-weight="bold" text-anchor="start" fill="#000" >[Ab] (M)</text>
<line x1="54.9" y1="282.6" x2="54.9" y2="293" stroke="#000" stroke-width="1.0"/>
<line x1="52.1" y1="282.6" x2="57.7" y2="282.6" stroke="#000" stroke-width="1.0"/>
<line x1="52.1" y1="293" x2="57.7" y2="293" stroke="#000" stroke-width="1.0"/>
<rect x="51.9" y="285" width="6.0" height="6.0" fill="#000"/>
<line x1="245.6" y1="353.6" x2="245.6" y2="365" stroke="#000" stroke-width="1.0"/>
<line x1="242.8" y1="353.6" x2="248.4" y2="353.6" stroke="#000" stroke-width="1.0"/>
<line x1="242.8" y1="365" x2="248.4" y2="365" stroke="#000" stroke-width="1.0"/>
<path d="M242.5 361.99L248.7 361.99L245.6 356.41Z" fill="#000"/>
<line x1="80" y1="294.5" x2="80" y2="310.5" stroke="#000" stroke-width="1.0"/>
<line x1="77.2" y1="294.5" x2="82.8" y2="294.5" stroke="#000" stroke-width="1.0"/>
<line x1="77.2" y1="310.5" x2="82.8" y2="310.5" stroke="#000" stroke-width="1.0"/>
<line x1="98.1" y1="301" x2="98.1" y2="314.5" stroke="#000" stroke-width="1.0"/>
<line x1="95.3" y1="301" x2="100.9" y2="301" stroke="#000" stroke-width="1.0"/>
<line x1="95.3" y1="314.5" x2="100.9" y2="314.5" stroke="#000" stroke-width="1.0"/>
<line x1="116.5" y1="305" x2="116.5" y2="316" stroke="#000" stroke-width="1.0"/>
<line x1="113.7" y1="305" x2="119.3" y2="305" stroke="#000" stroke-width="1.0"/>
<line x1="113.7" y1="316" x2="119.3" y2="316" stroke="#000" stroke-width="1.0"/>
<line x1="132" y1="304.5" x2="132" y2="322.5" stroke="#000" stroke-width="1.0"/>
<line x1="129.2" y1="304.5" x2="134.8" y2="304.5" stroke="#000" stroke-width="1.0"/>
<line x1="129.2" y1="322.5" x2="134.8" y2="322.5" stroke="#000" stroke-width="1.0"/>
<line x1="150.1" y1="270" x2="150.1" y2="285.5" stroke="#000" stroke-width="1.0"/>
<line x1="147.3" y1="270" x2="152.9" y2="270" stroke="#000" stroke-width="1.0"/>
<line x1="147.3" y1="285.5" x2="152.9" y2="285.5" stroke="#000" stroke-width="1.0"/>
<line x1="170.4" y1="306.5" x2="170.4" y2="321.1" stroke="#000" stroke-width="1.0"/>
<line x1="167.6" y1="306.5" x2="173.2" y2="306.5" stroke="#000" stroke-width="1.0"/>
<line x1="167.6" y1="321.1" x2="173.2" y2="321.1" stroke="#000" stroke-width="1.0"/>
<line x1="188.5" y1="285" x2="188.5" y2="314.7" stroke="#000" stroke-width="1.0"/>
<line x1="185.7" y1="285" x2="191.3" y2="285" stroke="#000" stroke-width="1.0"/>
<line x1="185.7" y1="314.7" x2="191.3" y2="314.7" stroke="#000" stroke-width="1.0"/>
<line x1="206.7" y1="293" x2="206.7" y2="299" stroke="#000" stroke-width="1.0"/>
<line x1="203.9" y1="293" x2="209.5" y2="293" stroke="#000" stroke-width="1.0"/>
<line x1="203.9" y1="299" x2="209.5" y2="299" stroke="#000" stroke-width="1.0"/>
<circle cx="80" cy="302.5" r="3.1" fill="#000"/>
<circle cx="98.1" cy="307.5" r="3.1" fill="#000"/>
<circle cx="116.5" cy="309.5" r="3.1" fill="#000"/>
<circle cx="132" cy="313.5" r="3.1" fill="#000"/>
<circle cx="150.1" cy="277.6" r="3.1" fill="#000"/>
<circle cx="170.4" cy="313.7" r="3.1" fill="#000"/>
<circle cx="188.5" cy="300.1" r="3.1" fill="#000"/>
<circle cx="206.7" cy="296.1" r="3.1" fill="#000"/>
<path d="M80 290.89 L82.11 291.42 L84.22 292.02 L86.33 292.69 L88.45 293.45 L90.56 294.31 L92.67 295.28 L94.78 296.35 L96.89 297.55 L99 298.87 L101.12 300.33 L103.23 301.93 L105.34 303.67 L107.45 305.55 L109.56 307.56 L111.67 309.7 L113.79 311.96 L115.9 314.32 L118.01 316.76 L120.12 319.26 L122.23 321.8 L124.34 324.35 L126.46 326.89 L128.57 329.38 L130.68 331.81 L132.79 334.16 L134.9 336.4 L137.01 338.52 L139.13 340.51 L141.24 342.37 L143.35 344.09 L145.46 345.66 L147.57 347.1 L149.69 348.41 L151.8 349.59 L153.91 350.65 L156.02 351.59 L158.13 352.44 L160.24 353.19 L162.35 353.85 L164.47 354.43 L166.58 354.95 L168.69 355.4 L170.8 355.8 L172.91 356.15 L175.02 356.45 L177.14 356.72 L179.25 356.95 L181.36 357.16 L183.47 357.33 L185.58 357.49 L187.69 357.62 L189.81 357.74 L191.92 357.84 L194.03 357.92 L196.14 358 L198.25 358.07 L200.37 358.12 L202.48 358.17 L204.59 358.22 L206.7 358.26" fill="none" stroke="#4a4ae0" stroke-width="1.0"/>
<line x1="98.1" y1="290" x2="98.1" y2="323.5" stroke="#4a4ae0" stroke-width="1.0"/>
<line x1="95.3" y1="290" x2="100.9" y2="290" stroke="#4a4ae0" stroke-width="1.0"/>
<line x1="95.3" y1="323.5" x2="100.9" y2="323.5" stroke="#4a4ae0" stroke-width="1.0"/>
<line x1="116.5" y1="305" x2="116.5" y2="316.5" stroke="#4a4ae0" stroke-width="1.0"/>
<line x1="113.7" y1="305" x2="119.3" y2="305" stroke="#4a4ae0" stroke-width="1.0"/>
<line x1="113.7" y1="316.5" x2="119.3" y2="316.5" stroke="#4a4ae0" stroke-width="1.0"/>
<line x1="170.4" y1="353.8" x2="170.4" y2="362.6" stroke="#4a4ae0" stroke-width="1.0"/>
<line x1="167.6" y1="353.8" x2="173.2" y2="353.8" stroke="#4a4ae0" stroke-width="1.0"/>
<line x1="167.6" y1="362.6" x2="173.2" y2="362.6" stroke="#4a4ae0" stroke-width="1.0"/>
<line x1="206.7" y1="354.4" x2="206.7" y2="362.1" stroke="#4a4ae0" stroke-width="1.0"/>
<line x1="203.9" y1="354.4" x2="209.5" y2="354.4" stroke="#4a4ae0" stroke-width="1.0"/>
<line x1="203.9" y1="362.1" x2="209.5" y2="362.1" stroke="#4a4ae0" stroke-width="1.0"/>
<circle cx="80" cy="280" r="3.1" fill="#0000c8"/>
<circle cx="98.1" cy="307.5" r="3.1" fill="#0000c8"/>
<circle cx="116.5" cy="311.1" r="3.1" fill="#0000c8"/>
<circle cx="132" cy="335" r="3.1" fill="#0000c8"/>
<circle cx="150.1" cy="345" r="3.1" fill="#0000c8"/>
<circle cx="170.4" cy="358" r="3.1" fill="#0000c8"/>
<circle cx="188.5" cy="363.4" r="3.1" fill="#0000c8"/>
<circle cx="206.7" cy="358.4" r="3.1" fill="#0000c8"/>
<text x="0" y="0" font-size="20.5" font-weight="bold" stroke="#000" stroke-width="0.6" transform="translate(253.6 258.9) scale(0.73 1)">C</text>
<line x1="332.9" y1="267.2" x2="332.9" y2="404" stroke="#000" stroke-width="1.1"/>
<line x1="327.9" y1="404" x2="332.9" y2="404" stroke="#000" stroke-width="1.1"/>
<text x="326" y="407.58" font-size="10.5" font-weight="bold" text-anchor="end" fill="#000" >0</text>
<line x1="327.9" y1="369.8" x2="332.9" y2="369.8" stroke="#000" stroke-width="1.1"/>
<text x="326" y="373.38" font-size="10.5" font-weight="bold" text-anchor="end" fill="#000" >100</text>
<line x1="327.9" y1="335.6" x2="332.9" y2="335.6" stroke="#000" stroke-width="1.1"/>
<text x="326" y="339.18" font-size="10.5" font-weight="bold" text-anchor="end" fill="#000" >200</text>
<line x1="327.9" y1="301.4" x2="332.9" y2="301.4" stroke="#000" stroke-width="1.1"/>
<text x="326" y="304.98" font-size="10.5" font-weight="bold" text-anchor="end" fill="#000" >300</text>
<line x1="327.9" y1="267.2" x2="332.9" y2="267.2" stroke="#000" stroke-width="1.1"/>
<text x="326" y="270.78" font-size="10.5" font-weight="bold" text-anchor="end" fill="#000" >400</text>
<line x1="327.9" y1="404" x2="347.7" y2="404" stroke="#000" stroke-width="1.5"/>
<line x1="347.7" y1="400.6" x2="347.7" y2="407.4" stroke="#000" stroke-width="1.1"/>
<line x1="340" y1="404" x2="340" y2="409.6" stroke="#000" stroke-width="1.1"/>
<text x="340.1" y="421.2" font-size="10.5" font-weight="bold" text-anchor="middle" fill="#000" >0</text>
<line x1="357.9" y1="404" x2="518.22" y2="404" stroke="#000" stroke-width="1.5"/>
<line x1="357.9" y1="400.6" x2="357.9" y2="407.4" stroke="#000" stroke-width="1.1"/>
<line x1="518.22" y1="400.6" x2="518.22" y2="407.4" stroke="#000" stroke-width="1.1"/>
<line x1="365.94" y1="404" x2="365.94" y2="407.3" stroke="#000" stroke-width="1.1"/>
<line x1="370.65" y1="404" x2="370.65" y2="407.3" stroke="#000" stroke-width="1.1"/>
<line x1="373.99" y1="404" x2="373.99" y2="407.3" stroke="#000" stroke-width="1.1"/>
<line x1="376.58" y1="404" x2="376.58" y2="407.3" stroke="#000" stroke-width="1.1"/>
<line x1="378.69" y1="404" x2="378.69" y2="407.3" stroke="#000" stroke-width="1.1"/>
<line x1="380.48" y1="404" x2="380.48" y2="407.3" stroke="#000" stroke-width="1.1"/>
<line x1="382.03" y1="404" x2="382.03" y2="407.3" stroke="#000" stroke-width="1.1"/>
<line x1="383.4" y1="404" x2="383.4" y2="407.3" stroke="#000" stroke-width="1.1"/>
<text x="0" y="0" font-size="10.5" font-weight="bold" text-anchor="end" transform="translate(360.9 419.8) rotate(-45)">10<tspan font-size="7" dy="-4">-11</tspan></text>
<line x1="384.62" y1="404" x2="384.62" y2="409.6" stroke="#000" stroke-width="1.1"/>
<line x1="392.66" y1="404" x2="392.66" y2="407.3" stroke="#000" stroke-width="1.1"/>
<line x1="397.37" y1="404" x2="397.37" y2="407.3" stroke="#000" stroke-width="1.1"/>
<line x1="400.71" y1="404" x2="400.71" y2="407.3" stroke="#000" stroke-width="1.1"/>
<line x1="403.3" y1="404" x2="403.3" y2="407.3" stroke="#000" stroke-width="1.1"/>
<line x1="405.41" y1="404" x2="405.41" y2="407.3" stroke="#000" stroke-width="1.1"/>
<line x1="407.2" y1="404" x2="407.2" y2="407.3" stroke="#000" stroke-width="1.1"/>
<line x1="408.75" y1="404" x2="408.75" y2="407.3" stroke="#000" stroke-width="1.1"/>
<line x1="410.12" y1="404" x2="410.12" y2="407.3" stroke="#000" stroke-width="1.1"/>
<text x="0" y="0" font-size="10.5" font-weight="bold" text-anchor="end" transform="translate(387.62 419.8) rotate(-45)">10<tspan font-size="7" dy="-4">-10</tspan></text>
<line x1="411.34" y1="404" x2="411.34" y2="409.6" stroke="#000" stroke-width="1.1"/>
<line x1="419.38" y1="404" x2="419.38" y2="407.3" stroke="#000" stroke-width="1.1"/>
<line x1="424.09" y1="404" x2="424.09" y2="407.3" stroke="#000" stroke-width="1.1"/>
<line x1="427.43" y1="404" x2="427.43" y2="407.3" stroke="#000" stroke-width="1.1"/>
<line x1="430.02" y1="404" x2="430.02" y2="407.3" stroke="#000" stroke-width="1.1"/>
<line x1="432.13" y1="404" x2="432.13" y2="407.3" stroke="#000" stroke-width="1.1"/>
<line x1="433.92" y1="404" x2="433.92" y2="407.3" stroke="#000" stroke-width="1.1"/>
<line x1="435.47" y1="404" x2="435.47" y2="407.3" stroke="#000" stroke-width="1.1"/>
<line x1="436.84" y1="404" x2="436.84" y2="407.3" stroke="#000" stroke-width="1.1"/>
<text x="0" y="0" font-size="10.5" font-weight="bold" text-anchor="end" transform="translate(414.34 419.8) rotate(-45)">10<tspan font-size="7" dy="-4">-9</tspan></text>
<line x1="438.06" y1="404" x2="438.06" y2="409.6" stroke="#000" stroke-width="1.1"/>
<line x1="446.1" y1="404" x2="446.1" y2="407.3" stroke="#000" stroke-width="1.1"/>
<line x1="450.81" y1="404" x2="450.81" y2="407.3" stroke="#000" stroke-width="1.1"/>
<line x1="454.15" y1="404" x2="454.15" y2="407.3" stroke="#000" stroke-width="1.1"/>
<line x1="456.74" y1="404" x2="456.74" y2="407.3" stroke="#000" stroke-width="1.1"/>
<line x1="458.85" y1="404" x2="458.85" y2="407.3" stroke="#000" stroke-width="1.1"/>
<line x1="460.64" y1="404" x2="460.64" y2="407.3" stroke="#000" stroke-width="1.1"/>
<line x1="462.19" y1="404" x2="462.19" y2="407.3" stroke="#000" stroke-width="1.1"/>
<line x1="463.56" y1="404" x2="463.56" y2="407.3" stroke="#000" stroke-width="1.1"/>
<text x="0" y="0" font-size="10.5" font-weight="bold" text-anchor="end" transform="translate(441.06 419.8) rotate(-45)">10<tspan font-size="7" dy="-4">-8</tspan></text>
<line x1="464.78" y1="404" x2="464.78" y2="409.6" stroke="#000" stroke-width="1.1"/>
<line x1="472.82" y1="404" x2="472.82" y2="407.3" stroke="#000" stroke-width="1.1"/>
<line x1="477.53" y1="404" x2="477.53" y2="407.3" stroke="#000" stroke-width="1.1"/>
<line x1="480.87" y1="404" x2="480.87" y2="407.3" stroke="#000" stroke-width="1.1"/>
<line x1="483.46" y1="404" x2="483.46" y2="407.3" stroke="#000" stroke-width="1.1"/>
<line x1="485.57" y1="404" x2="485.57" y2="407.3" stroke="#000" stroke-width="1.1"/>
<line x1="487.36" y1="404" x2="487.36" y2="407.3" stroke="#000" stroke-width="1.1"/>
<line x1="488.91" y1="404" x2="488.91" y2="407.3" stroke="#000" stroke-width="1.1"/>
<line x1="490.28" y1="404" x2="490.28" y2="407.3" stroke="#000" stroke-width="1.1"/>
<text x="0" y="0" font-size="10.5" font-weight="bold" text-anchor="end" transform="translate(467.78 419.8) rotate(-45)">10<tspan font-size="7" dy="-4">-7</tspan></text>
<line x1="491.5" y1="404" x2="491.5" y2="409.6" stroke="#000" stroke-width="1.1"/>
<line x1="499.54" y1="404" x2="499.54" y2="407.3" stroke="#000" stroke-width="1.1"/>
<line x1="504.25" y1="404" x2="504.25" y2="407.3" stroke="#000" stroke-width="1.1"/>
<line x1="507.59" y1="404" x2="507.59" y2="407.3" stroke="#000" stroke-width="1.1"/>
<line x1="510.18" y1="404" x2="510.18" y2="407.3" stroke="#000" stroke-width="1.1"/>
<line x1="512.29" y1="404" x2="512.29" y2="407.3" stroke="#000" stroke-width="1.1"/>
<line x1="514.08" y1="404" x2="514.08" y2="407.3" stroke="#000" stroke-width="1.1"/>
<line x1="515.63" y1="404" x2="515.63" y2="407.3" stroke="#000" stroke-width="1.1"/>
<line x1="517" y1="404" x2="517" y2="407.3" stroke="#000" stroke-width="1.1"/>
<text x="0" y="0" font-size="10.5" font-weight="bold" text-anchor="end" transform="translate(494.5 419.8) rotate(-45)">10<tspan font-size="7" dy="-4">-6</tspan></text>
<text x="0" y="0" font-size="10.5" font-weight="bold" text-anchor="end" transform="translate(521.22 419.8) rotate(-45)">10<tspan font-size="7" dy="-4">-5</tspan></text>
<line x1="527.62" y1="404" x2="539.62" y2="404" stroke="#000" stroke-width="1.5"/>
<text x="0" y="0" font-size="11.5" font-weight="bold" text-anchor="middle" transform="translate(301.7 335.2) rotate(-90)">IL-13 (pg/ml)</text>
<text x="414" y="444.8" font-size="11.3" font-weight="bold" text-anchor="start" fill="#000" >[Ab] (M)</text>
<line x1="340.6" y1="293" x2="340.6" y2="297.2" stroke="#000" stroke-width="1.0"/>
<line x1="337.8" y1="293" x2="343.4" y2="293" stroke="#000" stroke-width="1.0"/>
<line x1="337.8" y1="297.2" x2="343.4" y2="297.2" stroke="#000" stroke-width="1.0"/>
<rect x="337.6" y="292.1" width="6.0" height="6.0" fill="#000"/>
<line x1="533.1" y1="344.4" x2="533.1" y2="352" stroke="#000" stroke-width="1.0"/>
<line x1="530.3" y1="344.4" x2="535.9" y2="344.4" stroke="#000" stroke-width="1.0"/>
<line x1="530.3" y1="352" x2="535.9" y2="352" stroke="#000" stroke-width="1.0"/>
<path d="M530 351.49L536.2 351.49L533.1 345.91Z" fill="#000"/>
<path d="M366.1 298.25 L368.26 298.55 L370.42 298.88 L372.58 299.25 L374.74 299.67 L376.9 300.12 L379.06 300.62 L381.22 301.17 L383.38 301.78 L385.54 302.44 L387.7 303.16 L389.86 303.95 L392.02 304.81 L394.18 305.73 L396.34 306.72 L398.5 307.78 L400.66 308.91 L402.82 310.11 L404.98 311.38 L407.14 312.71 L409.3 314.09 L411.46 315.52 L413.62 317 L415.78 318.51 L417.94 320.04 L420.1 321.59 L422.26 323.13 L424.42 324.67 L426.58 326.2 L428.74 327.69 L430.9 329.15 L433.06 330.56 L435.22 331.91 L437.38 333.21 L439.54 334.44 L441.7 335.61 L443.86 336.71 L446.02 337.74 L448.18 338.69 L450.34 339.58 L452.5 340.4 L454.66 341.16 L456.82 341.85 L458.98 342.49 L461.14 343.06 L463.3 343.59 L465.46 344.07 L467.62 344.5 L469.78 344.89 L471.94 345.25 L474.1 345.56 L476.26 345.85 L478.42 346.11 L480.58 346.34 L482.74 346.54 L484.9 346.73 L487.06 346.9 L489.22 347.04 L491.38 347.18 L493.54 347.29 L495.7 347.4" fill="none" stroke="#4a4ae0" stroke-width="1.0"/>
<line x1="366.1" y1="290.4" x2="366.1" y2="296.4" stroke="#4a4ae0" stroke-width="1.0"/>
<line x1="363.3" y1="290.4" x2="368.9" y2="290.4" stroke="#4a4ae0" stroke-width="1.0"/>
<line x1="363.3" y1="296.4" x2="368.9" y2="296.4" stroke="#4a4ae0" stroke-width="1.0"/>
<line x1="384.7" y1="300" x2="384.7" y2="317.8" stroke="#4a4ae0" stroke-width="1.0"/>
<line x1="381.9" y1="300" x2="387.5" y2="300" stroke="#4a4ae0" stroke-width="1.0"/>
<line x1="381.9" y1="317.8" x2="387.5" y2="317.8" stroke="#4a4ae0" stroke-width="1.0"/>
<line x1="403.2" y1="302.4" x2="403.2" y2="316" stroke="#4a4ae0" stroke-width="1.0"/>
<line x1="400.4" y1="302.4" x2="406" y2="302.4" stroke="#4a4ae0" stroke-width="1.0"/>
<line x1="400.4" y1="316" x2="406" y2="316" stroke="#4a4ae0" stroke-width="1.0"/>
<line x1="437.8" y1="323.2" x2="437.8" y2="335.7" stroke="#4a4ae0" stroke-width="1.0"/>
<line x1="435" y1="323.2" x2="440.6" y2="323.2" stroke="#4a4ae0" stroke-width="1.0"/>
<line x1="435" y1="335.7" x2="440.6" y2="335.7" stroke="#4a4ae0" stroke-width="1.0"/>
<line x1="477.2" y1="348.4" x2="477.2" y2="354.3" stroke="#4a4ae0" stroke-width="1.0"/>
<line x1="474.4" y1="348.4" x2="480" y2="348.4" stroke="#4a4ae0" stroke-width="1.0"/>
<line x1="474.4" y1="354.3" x2="480" y2="354.3" stroke="#4a4ae0" stroke-width="1.0"/>
<circle cx="366.1" cy="293.4" r="3.1" fill="#0000c8"/>
<circle cx="384.7" cy="308.7" r="3.1" fill="#0000c8"/>
<circle cx="403.2" cy="309.6" r="3.1" fill="#0000c8"/>
<circle cx="419.3" cy="321.3" r="3.1" fill="#0000c8"/>
<circle cx="437.8" cy="329.6" r="3.1" fill="#0000c8"/>
<circle cx="458.7" cy="343.6" r="3.1" fill="#0000c8"/>
<circle cx="477.2" cy="351.4" r="3.1" fill="#0000c8"/>
<circle cx="495.7" cy="348.3" r="3.1" fill="#0000c8"/>
<line x1="366.1" y1="290.7" x2="366.1" y2="304.7" stroke="#000" stroke-width="1.0"/>
<line x1="363.3" y1="290.7" x2="368.9" y2="290.7" stroke="#000" stroke-width="1.0"/>
<line x1="363.3" y1="304.7" x2="368.9" y2="304.7" stroke="#000" stroke-width="1.0"/>
<line x1="384.7" y1="296.3" x2="384.7" y2="308.5" stroke="#000" stroke-width="1.0"/>
<line x1="381.9" y1="296.3" x2="387.5" y2="296.3" stroke="#000" stroke-width="1.0"/>
<line x1="381.9" y1="308.5" x2="387.5" y2="308.5" stroke="#000" stroke-width="1.0"/>
<line x1="437.8" y1="295.6" x2="437.8" y2="301" stroke="#000" stroke-width="1.0"/>
<line x1="435" y1="295.6" x2="440.6" y2="295.6" stroke="#000" stroke-width="1.0"/>
<line x1="435" y1="301" x2="440.6" y2="301" stroke="#000" stroke-width="1.0"/>
<line x1="458.7" y1="304.5" x2="458.7" y2="320.2" stroke="#000" stroke-width="1.0"/>
<line x1="455.9" y1="304.5" x2="461.5" y2="304.5" stroke="#000" stroke-width="1.0"/>
<line x1="455.9" y1="320.2" x2="461.5" y2="320.2" stroke="#000" stroke-width="1.0"/>
<line x1="477.2" y1="295.1" x2="477.2" y2="305.3" stroke="#000" stroke-width="1.0"/>
<line x1="474.4" y1="295.1" x2="480" y2="295.1" stroke="#000" stroke-width="1.0"/>
<line x1="474.4" y1="305.3" x2="480" y2="305.3" stroke="#000" stroke-width="1.0"/>
<line x1="495.7" y1="292.5" x2="495.7" y2="297.6" stroke="#000" stroke-width="1.0"/>
<line x1="492.9" y1="292.5" x2="498.5" y2="292.5" stroke="#000" stroke-width="1.0"/>
<line x1="492.9" y1="297.6" x2="498.5" y2="297.6" stroke="#000" stroke-width="1.0"/>
<circle cx="366.1" cy="297.6" r="3.1" fill="#000"/>
<circle cx="384.7" cy="302.4" r="3.1" fill="#000"/>
<circle cx="403.2" cy="305.1" r="3.1" fill="#000"/>
<circle cx="419.3" cy="308.1" r="3.1" fill="#000"/>
<circle cx="437.8" cy="298.3" r="3.1" fill="#000"/>
<circle cx="458.7" cy="312.3" r="3.1" fill="#000"/>
<circle cx="477.2" cy="300" r="3.1" fill="#000"/>
<circle cx="495.7" cy="295.1" r="3.1" fill="#000"/>
<circle cx="577.6" cy="276.8" r="2.85" fill="#000"/>
<text x="592.5" y="279.9" font-size="11.2" font-weight="normal" text-anchor="start" fill="#000" >Isotype Ab</text>
<line x1="569.7" y1="295.5" x2="585.1" y2="295.5" stroke="#4a4ae0" stroke-width="1.0"/>
<circle cx="577.6" cy="295.5" r="2.85" fill="#0000c8"/>
<text x="592.5" y="298.5" font-size="11.2" font-weight="normal" text-anchor="start" fill="#000" >hGITR-nc-Ab-#2</text>
<rect x="574.7" y="310.7" width="5.8" height="5.8" fill="#000"/>
<text x="592.5" y="316.9" font-size="11.2" font-weight="normal" text-anchor="start" fill="#000" >No Ab</text>
<path d="M574.6 335L580.6 335L577.6 329.6Z" fill="#000"/>
<text x="592.5" y="335.5" font-size="11.2" font-weight="normal" text-anchor="start" fill="#000" >No Ab + No GITRL</text>
</svg>
</body></html>
